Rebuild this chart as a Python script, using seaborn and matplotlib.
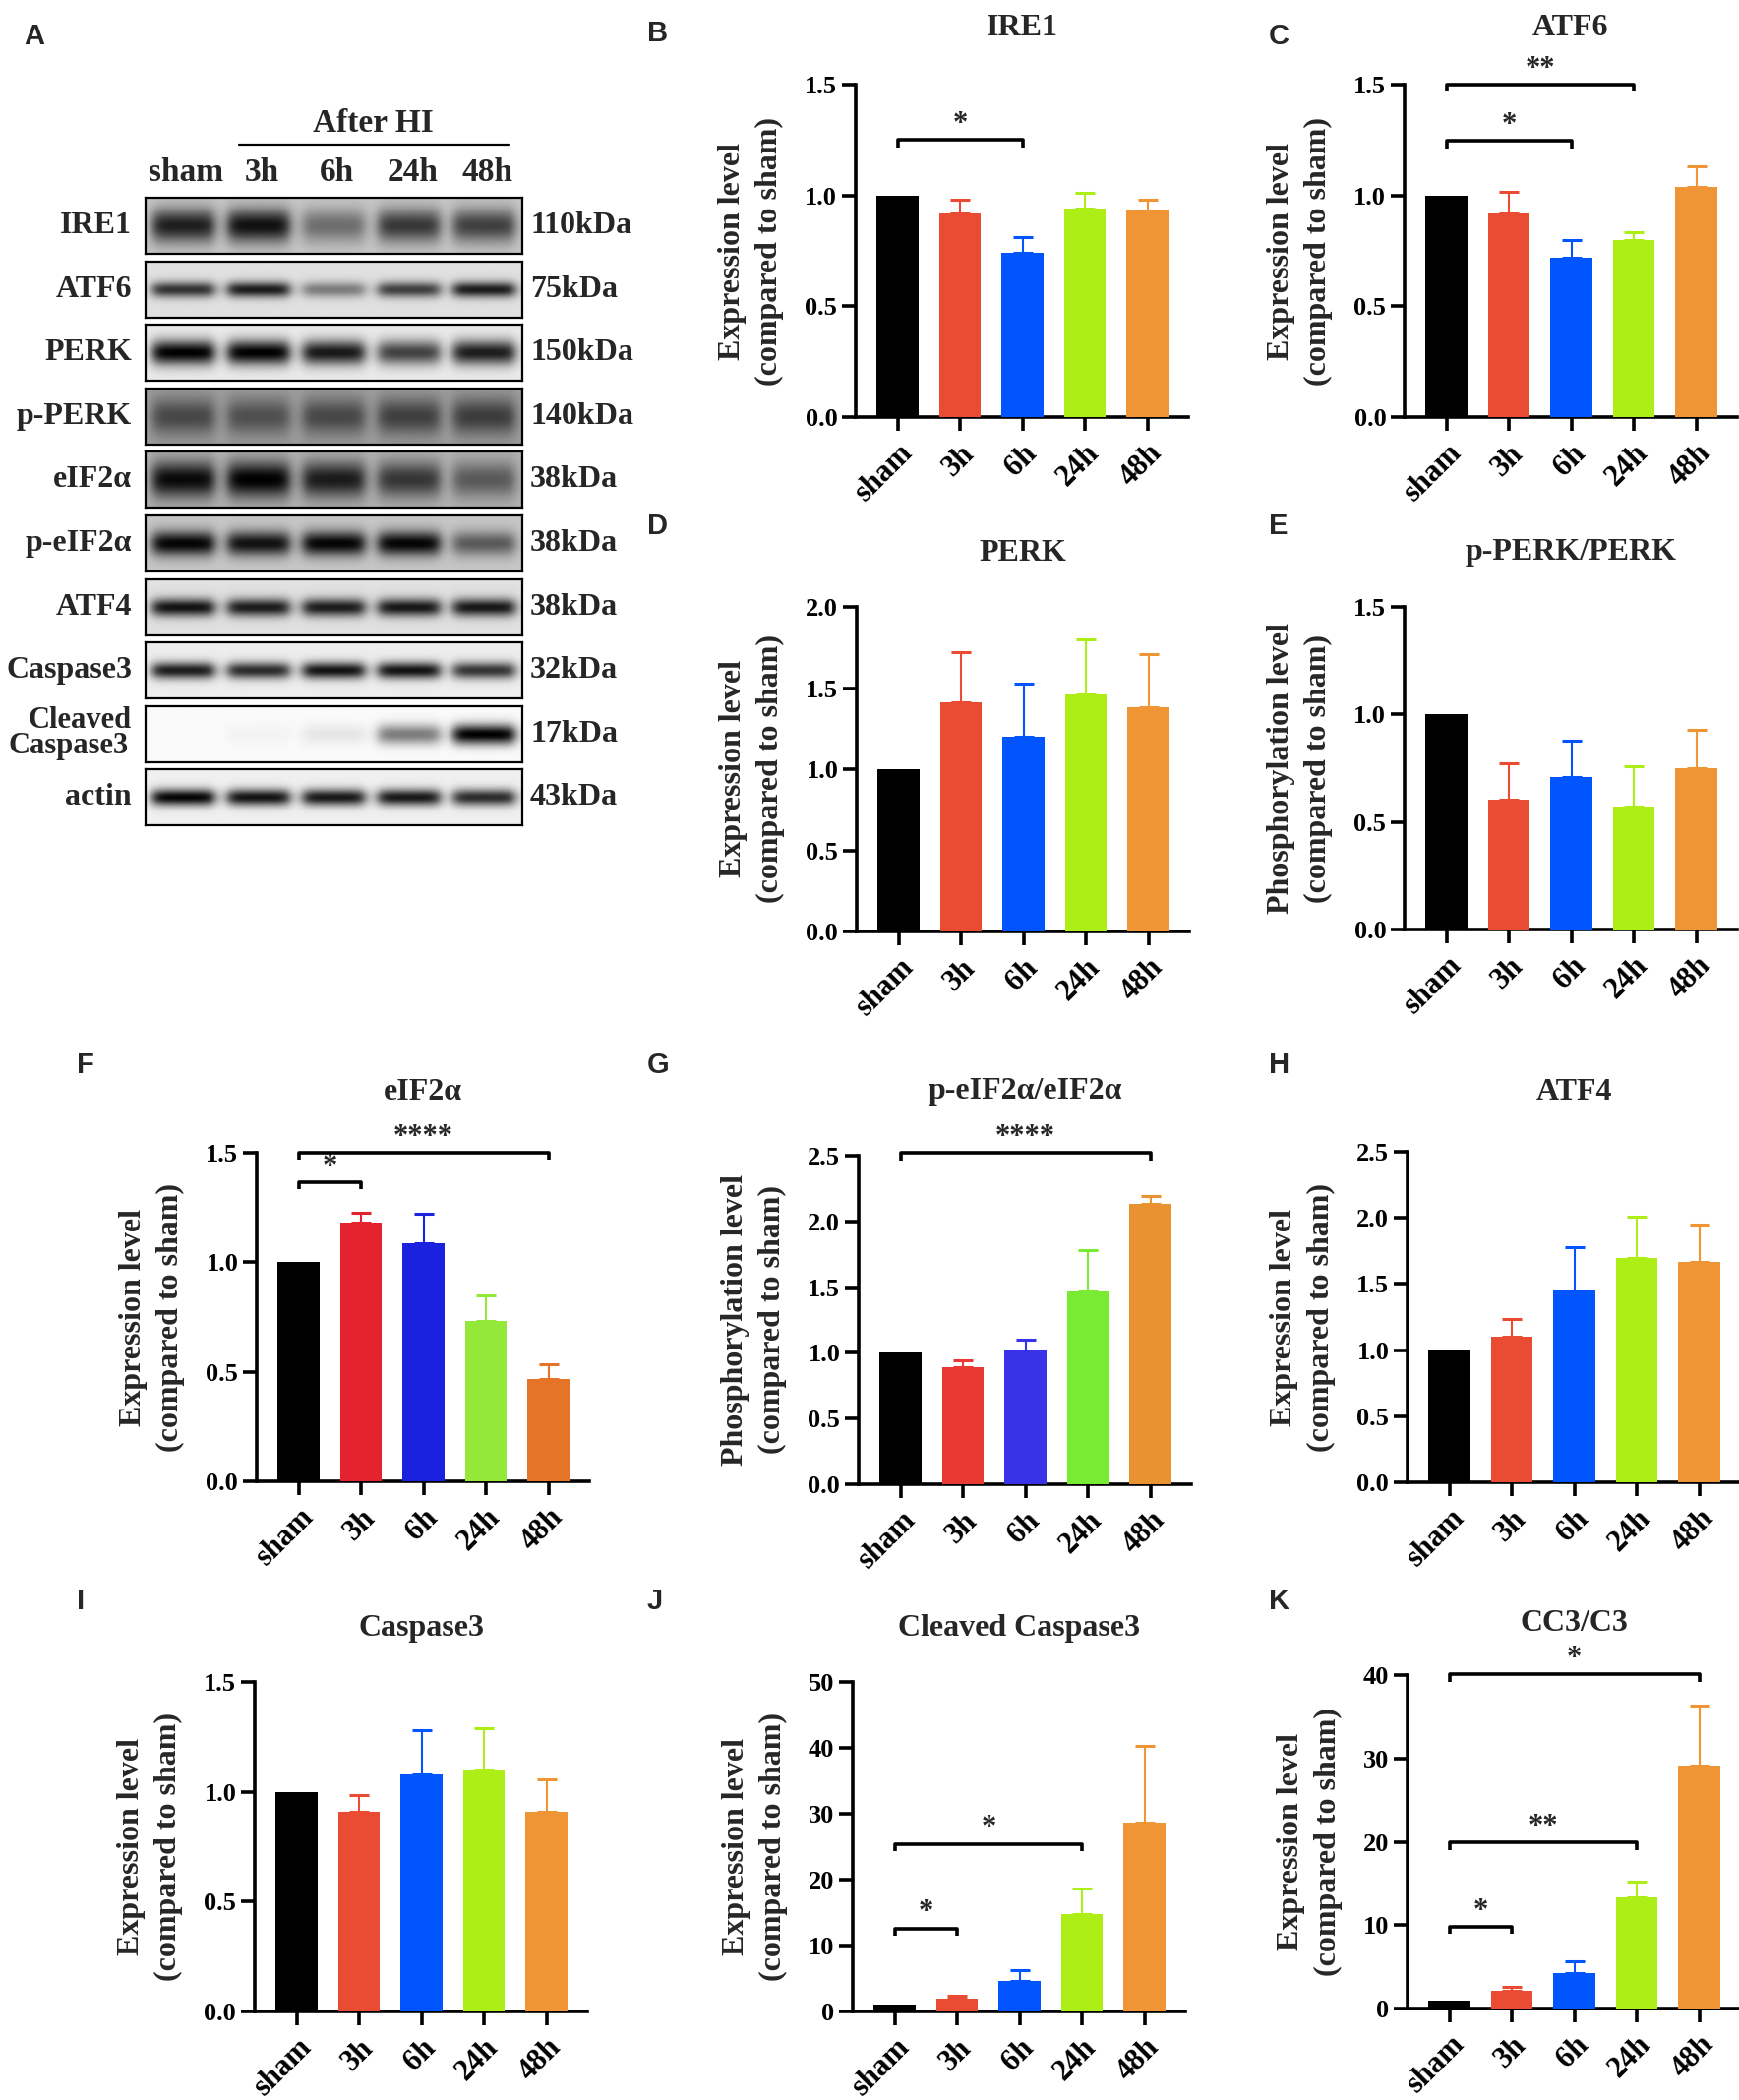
import numpy as np
import pandas as pd
import matplotlib
matplotlib.use('Agg')
import matplotlib.pyplot as plt
from matplotlib.lines import Line2D
import seaborn as sns

# ---------------- data ----------------
groups = ['sham', '3h', '6h', '24h', '48h']

ire1_mean = [1.0, 0.92, 0.74, 0.94, 0.93]
ire1_upper = [1.0, 0.98, 0.81, 1.01, 0.98]
atf6_mean = [1.0, 0.92, 0.72, 0.80, 1.04]
atf6_upper = [1.0, 1.015, 0.80, 0.835, 1.13]
perk_mean = [1.0, 1.41, 1.20, 1.46, 1.38]
perk_upper = [1.0, 1.72, 1.53, 1.80, 1.71]
pperk_mean = [1.0, 0.605, 0.71, 0.57, 0.75]
pperk_upper = [1.0, 0.775, 0.88, 0.76, 0.93]
eif_mean = [1.0, 1.18, 1.085, 0.73, 0.465]
eif_upper = [1.0, 1.225, 1.22, 0.85, 0.535]
peif_mean = [1.0, 0.89, 1.02, 1.47, 2.13]
peif_upper = [1.0, 0.945, 1.10, 1.78, 2.19]
atf4_mean = [1.0, 1.10, 1.45, 1.70, 1.67]
atf4_upper = [1.0, 1.235, 1.775, 2.01, 1.95]
casp_mean = [1.0, 0.91, 1.08, 1.10, 0.91]
casp_upper = [1.0, 0.985, 1.28, 1.29, 1.055]
ccasp_mean = [1.0, 1.9, 4.7, 14.8, 28.7]
ccasp_upper = [1.0, 2.4, 6.3, 18.6, 40.3]
cc3c3_mean = [1.0, 2.1, 4.3, 13.3, 29.1]
cc3c3_upper = [1.0, 2.6, 5.7, 15.2, 36.4]

# significance brackets: (from index, to index, height, label)
ire1_sig = [(0, 2, 1.25, '*')]
atf6_sig = [(0, 2, 1.245, '*'), (0, 3, 1.5, '**')]
eif_sig = [(0, 1, 1.365, '*'), (0, 4, 1.5, '****')]
peif_sig = [(0, 4, 2.52, '****')]
ccasp_sig = [(0, 1, 12.6, '*'), (0, 3, 25.4, '*')]
cc3c3_sig = [(0, 1, 9.8, '*'), (0, 3, 19.9, '**'), (0, 4, 40.1, '*')]

ticks_15 = [0, 0.5, 1.0, 1.5]
labels_15 = ['0.0', '0.5', '1.0', '1.5']
ticks_20 = [0, 0.5, 1.0, 1.5, 2.0]
labels_20 = ['0.0', '0.5', '1.0', '1.5', '2.0']
ticks_25 = [0, 0.5, 1.0, 1.5, 2.0, 2.5]
labels_25 = ['0.0', '0.5', '1.0', '1.5', '2.0', '2.5']
ticks_50 = [0, 10, 20, 30, 40, 50]
labels_50 = ['0', '10', '20', '30', '40', '50']
ticks_40 = [0, 10, 20, 30, 40]
labels_40 = ['0', '10', '20', '30', '40']

colors_main = ['#000000', '#E94B33', '#0055FF', '#ADEE16', '#F09535']
colors_f = ['#000000', '#E5232F', '#1A22E0', '#93E83A', '#E57428']
colors_g = ['#000000', '#E83A33', '#3933E8', '#79EB33', '#E89232']

# western blot
blot_names = ['IRE1', 'ATF6', 'PERK', 'p-PERK', 'eIF2α', 'p-eIF2α', 'ATF4',
              'Caspase3', 'Cleaved\nCaspase3', 'actin']
blot_kda = ['110kDa', '75kDa', '150kDa', '140kDa', '38kDa', '38kDa', '38kDa',
            '32kDa', '17kDa', '43kDa']
blot_band = [
    [0.85, 0.92, 0.45, 0.72, 0.68],
    [0.78, 0.88, 0.45, 0.72, 0.88],
    [1.00, 1.00, 0.90, 0.72, 0.88],
    [0.55, 0.50, 0.55, 0.60, 0.62],
    [0.95, 1.00, 0.85, 0.70, 0.50],
    [0.98, 0.92, 0.98, 0.98, 0.55],
    [0.92, 0.88, 0.88, 0.90, 0.90],
    [0.88, 0.82, 0.92, 0.92, 0.78],
    [0.00, 0.03, 0.08, 0.50, 1.00],
    [0.98, 0.92, 0.90, 0.90, 0.82],
]
blot_bg = [0.22, 0.12, 0.08, 0.38, 0.30, 0.22, 0.12, 0.07, 0.02, 0.06]
blot_thick = [0.30, 0.14, 0.22, 0.33, 0.32, 0.22, 0.16, 0.15, 0.18, 0.15]
blot_cols = ['sham', '3h', '6h', '24h', '48h']

# ---------------- style ----------------
sns.set_style('ticks')
plt.rcParams['font.family'] = ['Liberation Serif', 'DejaVu Serif']
plt.rcParams['font.weight'] = 'bold'
plt.rcParams['axes.labelweight'] = 'bold'

W, H = 1768, 2135
fig = plt.figure(figsize=(W / 100, H / 100), dpi=100)


def fx(p):
    return p / W


def fy(p):
    return 1 - p / H


LETTER_FONT = ['Liberation Sans', 'DejaVu Sans']


def letter(ch, x, y):
    fig.text(fx(x), fy(y), ch, family=LETTER_FONT, fontsize=21, fontweight='bold',
             ha='left', va='center')


# ---------------- panel A: blot ----------------
letter('A', 24, 37)
box_left, box_w, box_h = 148, 383, 57
row_top0, row_pitch = 201, 64.6
nx, ny = 420, 64
xs = np.linspace(0, 5, nx)
ys = np.linspace(0, 1, ny)
XX, YY = np.meshgrid(xs, ys)
for r, name in enumerate(blot_names):
    top = row_top0 + r * row_pitch
    ax = fig.add_axes([fx(box_left), fy(top + box_h), box_w / W, box_h / H])
    img = np.full((ny, nx), blot_bg[r])
    for i, amp in enumerate(blot_band[r]):
        lane = 1.0 / (1.0 + np.exp((np.abs(XX - (i + 0.5)) - 0.41) / 0.045))
        band = np.exp(-((YY - 0.5) / blot_thick[r]) ** 2)
        img = img + (1 - blot_bg[r]) * amp * lane * band
    img = np.clip(img, 0, 1)
    ax.imshow(img, cmap='gray_r', vmin=0, vmax=1, aspect='auto',
              extent=(0, 5, 1, 0), interpolation='bilinear')
    ax.set_xticks([])
    ax.set_yticks([])
    for s in ax.spines.values():
        s.set_linewidth(1.6)
        s.set_color('black')
    cy = top + box_h / 2
    if '\n' in name:
        l1, l2 = name.split('\n')
        fig.text(fx(134), fy(cy - 14), l1, ha='right', va='center', fontsize=22, fontweight='bold')
        fig.text(fx(131), fy(cy + 12), l2, ha='right', va='center', fontsize=22, fontweight='bold')
    else:
        fig.text(fx(134), fy(cy), name, ha='right', va='center', fontsize=23, fontweight='bold')
    fig.text(fx(539), fy(cy), blot_kda[r], ha='left', va='center', fontsize=23, fontweight='bold')

for i, c in enumerate(blot_cols):
    fig.text(fx(box_left + (i + 0.5) * box_w / 5 + 3), fy(175), c, ha='center', va='center',
             fontsize=24, fontweight='bold')
fig.text(fx(379), fy(125), 'After HI', ha='center', va='center', fontsize=24, fontweight='bold')
fig.add_artist(Line2D([fx(243), fx(517)], [fy(147), fy(147)], color='black', lw=1.6))

# ---------------- bar panels ----------------
AX_W = 338
panels = [
    ('B', 'IRE1', ire1_mean, ire1_upper, colors_main, 'Expression level', ticks_15, labels_15, ire1_sig, 870, 424, 86, 29, (658, 34)),
    ('C', 'ATF6', atf6_mean, atf6_upper, colors_main, 'Expression level', ticks_15, labels_15, atf6_sig, 1428, 424, 86, 29, (1290, 37)),
    ('D', 'PERK', perk_mean, perk_upper, colors_main, 'Expression level', ticks_20, labels_20, [], 871, 947, 617, 562, (658, 535)),
    ('E', 'p-PERK/PERK', pperk_mean, pperk_upper, colors_main, 'Phosphorylation level', ticks_15, labels_15, [], 1428, 945, 617, 562, (1290, 535)),
    ('F', 'eIF2α', eif_mean, eif_upper, colors_f, 'Expression level', ticks_15, labels_15, eif_sig, 261, 1506, 1172, 1110, (78, 1083)),
    ('G', 'p-eIF2α/eIF2α', peif_mean, peif_upper, colors_g, 'Phosphorylation level', ticks_25, labels_25, peif_sig, 873, 1509, 1175, 1110, (658, 1083)),
    ('H', 'ATF4', atf4_mean, atf4_upper, colors_main, 'Expression level', ticks_25, labels_25, [], 1431, 1507, 1171, 1110, (1290, 1083)),
    ('I', 'Caspase3', casp_mean, casp_upper, colors_main, 'Expression level', ticks_15, labels_15, [], 259, 2045, 1710, 1655, (78, 1628)),
    ('J', 'Cleaved Caspase3', ccasp_mean, ccasp_upper, colors_main, 'Expression level', ticks_50, labels_50, ccasp_sig, 867, 2045, 1710, 1655, (658, 1628)),
    ('K', 'CC3/C3', cc3c3_mean, cc3c3_upper, colors_main, 'Expression level', ticks_40, labels_40, cc3c3_sig, 1431, 2042, 1703, 1650, (1290, 1628)),
]

for (lt, title, means, uppers, cols, ylab, yt, ytl, sig, left, bottom, top, ty, lxy) in panels:
    ax = fig.add_axes([fx(left), fy(bottom), AX_W / W, (bottom - top) / H])
    df = pd.DataFrame({'group': groups, 'value': means})
    sns.barplot(data=df, x='group', y='value', hue='group', palette=cols, width=0.67,
                saturation=1, legend=False, errorbar=None, linewidth=0, ax=ax, zorder=3)
    for i, (m, u) in enumerate(zip(means, uppers)):
        if u > m:
            ax.errorbar(i, m, yerr=[[0], [u - m]], fmt='none', ecolor=cols[i],
                        elinewidth=1.5, capsize=7, capthick=2.2, zorder=2)
    ymax = yt[-1]
    ax.set_xlim(-0.67, 4.65)
    ax.set_ylim(0, ymax)
    ax.set_yticks(yt)
    ax.set_yticklabels(ytl)
    ax.set_xlabel('')
    ax.set_ylabel(ylab + '\n(compared to sham)', fontsize=23, fontweight='bold',
                  linespacing=1.4, labelpad=15)
    ax.set_xticks(range(len(groups)))
    ax.set_xticklabels(groups, rotation=45, ha='right', rotation_mode='anchor')
    ax.tick_params(axis='both', direction='out', length=10, width=2.6, labelsize=19,
                   color='black', labelcolor='black')
    ax.tick_params(axis='x', labelsize=22, pad=6)
    for lbl in ax.get_xticklabels() + ax.get_yticklabels():
        lbl.set_fontweight('bold')
    sns.despine(ax=ax)
    for s in ['left', 'bottom']:
        ax.spines[s].set_linewidth(2.6)
        ax.spines[s].set_color('black')
    d = 0.022 * ymax
    for (i0, i1, y, txt) in sig:
        ax.plot([i0, i0, i1, i1], [y - d, y, y, y - d], color='black', lw=2.6,
                clip_on=False, solid_capstyle='butt', zorder=5)
        ax.text((i0 + i1) / 2, y + 0.004 * ymax, txt, ha='center', va='bottom',
                fontsize=22, fontweight='bold', clip_on=False)
    fig.text(fx(left + AX_W / 2), fy(ty), title, ha='center', va='center',
             fontsize=23, fontweight='bold')
    letter(lt, lxy[0], lxy[1])

fig.savefig('out.png', dpi=100, facecolor='white')
